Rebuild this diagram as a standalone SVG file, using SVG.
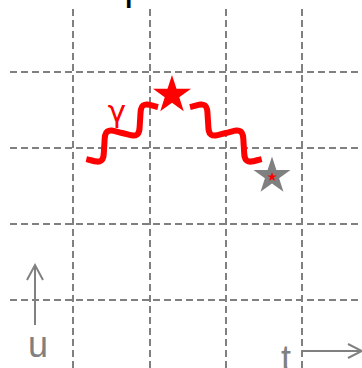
<svg xmlns="http://www.w3.org/2000/svg" width="362" height="368" viewBox="0 0 362 368">
<style>
.grid{stroke:#808080;stroke-width:2;stroke-dasharray:7 4;fill:none}
.axis{stroke:#808080;stroke-width:2;fill:none}
.wave{stroke:#ff0000;stroke-width:6;fill:none}
.lbl{font-family:"Liberation Sans",Arial,sans-serif;fill:#808080;font-size:36px}
.title{font-family:"Liberation Sans",Arial,sans-serif;fill:#000;font-size:40px}
</style>
<defs>
<polygon id="star" points="0,-10 2.245,-3.09 9.511,-3.09 3.633,1.18 5.878,8.09 0,3.82 -5.878,8.09 -3.633,1.18 -9.511,-3.09 -2.245,-3.09"/>
<path id="wv" d="M0,0 C4.6,-5.3 7.09,-10 11.075,-10 C15.06,-10 17.55,-5.3 22.15,0 C26.75,5.3 29.24,10 33.225,10 C37.21,10 39.7,5.3 44.3,0 C48.9,-5.3 51.39,-10 55.375,-10 C59.36,-10 61.85,-5.3 66.45,0 C71.05,5.3 73.54,10 77.525,10 C81.51,10 84,5.3 88.6,0"/>
</defs>
<text class="title" x="42" y="0">Soft photon emission</text>
<g id="grid">
<line class="grid" x1="73" y1="9" x2="73" y2="368"/>
<line class="grid" x1="150" y1="9" x2="150" y2="368"/>
<line class="grid" x1="226" y1="9" x2="226" y2="368"/>
<line class="grid" x1="302" y1="9" x2="302" y2="368"/>
<line class="grid" x1="10" y1="72" x2="362" y2="72"/>
<line class="grid" x1="10" y1="148" x2="362" y2="148"/>
<line class="grid" x1="10" y1="224" x2="362" y2="224"/>
<line class="grid" x1="10" y1="300" x2="362" y2="300"/>
</g>
<g id="connectors">
<use href="#wv" class="wave" transform="translate(190,107) rotate(36)"/>
<use href="#wv" class="wave" transform="translate(348,0) scale(-1,1) translate(190,107) rotate(36)"/>
</g>
<g id="emitter">
<use href="#star" fill="#ff0000" transform="translate(172,95) scale(2)"/>
</g>
<g id="absorber">
<use href="#star" fill="#808080" transform="translate(272,176) scale(1.95)"/>
<use href="#star" fill="#ff0000" transform="translate(272,177) scale(0.5)"/>
</g>
<g id="gamma-label">
<text x="117" y="122" text-anchor="middle" font-family="DejaVu Sans, sans-serif" font-size="31" fill="#ff0000">γ</text>
</g>
<g id="u-axis">
<line class="axis" x1="35" y1="325" x2="35" y2="265"/>
<polyline class="axis" points="27,280 35,265 43,280"/>
<text class="lbl" x="38" y="357" text-anchor="middle">u</text>
</g>
<g id="t-axis">
<line class="axis" x1="303" y1="351" x2="362" y2="351"/>
<polyline class="axis" points="348,344 362,351 348,358"/>
<text class="lbl" x="281" y="371">t</text>
</g>
</svg>
